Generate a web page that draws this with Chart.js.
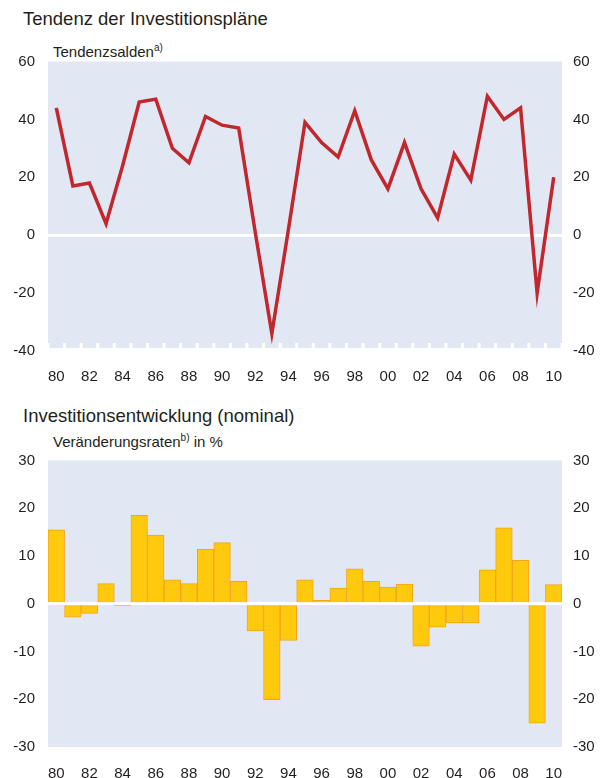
<!DOCTYPE html>
<html lang="de">

<head>
    <meta charset="UTF-8">
    <title>Investitionspläne</title>
    <script src="https://cdn.jsdelivr.net/npm/chart.js"></script>
    <style>
        body { margin: 0; width: 606px; height: 778px; overflow: hidden; background: #fff;
               font-family: "Liberation Sans", Arial, sans-serif; color: #231F20; position: relative; }
        .title { position: absolute; left: 23px; font-size: 18.5px; line-height: 18.5px; white-space: nowrap; }
        .sub { position: absolute; left: 53px; font-size: 15px; line-height: 15px; white-space: nowrap; }
        .sub sup { font-size: 10px; vertical-align: 6px; line-height: 0; }
        canvas { position: absolute; left: 0; }
    </style>
</head>

<body>
    <div class="title" style="top:10px;">Tendenz der Investitionspläne</div>
    <div class="sub" style="top:44px;">Tendenzsalden<sup>a)</sup></div>
    <canvas id="planChart" width="606" height="351" style="top:41px;"></canvas>

    <div class="title" style="top:407px;">Investitionsentwicklung (nominal)</div>
    <div class="sub" style="top:434px;">Veränderungsraten<sup>b)</sup> in %</div>
    <canvas id="rateChart" width="606" height="338" style="top:440px;"></canvas>

    <script>
        // Jahre 1980-2010
        const years = ['80', '81', '82', '83', '84', '85', '86', '87', '88', '89',
            '90', '91', '92', '93', '94', '95', '96', '97', '98', '99',
            '00', '01', '02', '03', '04', '05', '06', '07', '08', '09', '10'];
        // Tendenzsalden der Investitionspläne
        const planSalden = [44, 17, 18, 4, 24, 46, 47, 30, 25, 41,
            38, 37, 1, -34, 2, 39, 32, 27, 43, 26,
            16, 32, 16, 6, 28, 19, 48, 40, 44, -20, 20];
        // Veränderungsraten der Investitionen in %
        const investRaten = [15.5, -2.8, -2.0, 4.2, -0.4, 18.5, 14.4, 5.0, 4.2, 11.4,
            12.8, 4.7, -5.7, -20.1, -7.7, 5.0, 0.7, 3.3, 7.3, 4.7,
            3.5, 4.1, -8.9, -4.9, -4.0, -4.0, 7.1, 15.9, 9.1, -25.0, 4.0];
        const planTicks = { min: -40, max: 60, step: 20 };
        const rateTicks = { min: -30, max: 30, step: 10 };

        const BG = '#E1E8F3';
        const TXT = '#231F20';
        const tickFont = { family: '"Liberation Sans", Arial, sans-serif', size: 15, lineHeight: 1 };

        // Hintergrund der Zeichenfläche (cut = Pixel, die unten frei bleiben)
        function plotBg(cut) {
            return {
                id: 'plotBg',
                beforeDraw(chart) {
                    const a = chart.chartArea, ctx = chart.ctx;
                    ctx.save();
                    ctx.fillStyle = BG;
                    ctx.fillRect(a.left, a.top, a.right - a.left, a.bottom - a.top - cut);
                    ctx.restore();
                }
            };
        }

        // kleine weiße Markierungen an den Jahresgrenzen (nur oben)
        const yearMarks = {
            id: 'yearMarks',
            beforeDatasetsDraw(chart) {
                const x = chart.scales.x, a = chart.chartArea, ctx = chart.ctx;
                const step = x.getPixelForValue(1) - x.getPixelForValue(0);
                ctx.save();
                ctx.fillStyle = '#fff';
                for (let i = 0; i <= years.length; i++) {
                    const px = x.getPixelForValue(0) - step / 2 + i * step;
                    const l = Math.max(a.left, px - 1.5), r = Math.min(a.right, px + 1.5);
                    ctx.fillRect(l, a.bottom - 8, r - l, 5);
                }
                ctx.restore();
            }
        };

        function yAxis(t, pos) {
            return {
                position: pos,
                min: t.min, max: t.max,
                border: { display: false },
                grid: {
                    drawTicks: false,
                    lineWidth: 3,
                    color: c => (c.tick && c.tick.value === 0 && pos === 'left') ? '#fff' : 'rgba(0,0,0,0)'
                },
                ticks: { stepSize: t.step, color: TXT, font: tickFont, padding: pos === 'left' ? 13 : 11 },
                afterFit: s => { s.width = pos === 'left' ? 48 : 44; }
            };
        }

        function xAxis(pad, h) {
            return {
                offset: true,
                border: { display: false },
                grid: { display: false, offset: true },
                ticks: {
                    color: TXT, font: tickFont, padding: pad,
                    autoSkip: false, maxRotation: 0,
                    callback: (v, i) => i % 2 === 0 ? years[i] : ''
                },
                afterFit: s => { s.height = h; }
            };
        }

        new Chart(document.getElementById('planChart'), {
            type: 'line',
            data: {
                labels: years,
                datasets: [{
                    data: planSalden,
                    borderColor: '#C1272D',
                    borderWidth: 3.5,
                    borderJoinStyle: 'miter',
                    pointRadius: 0,
                    tension: 0,
                    yAxisID: 'y'
                }]
            },
            options: {
                responsive: false,
                animation: false,
                layout: { padding: { top: 3.5, bottom: 0, left: 0, right: 0 } },
                plugins: { legend: { display: false }, tooltip: { enabled: false } },
                scales: {
                    x: xAxis(10, 41),
                    y: yAxis(planTicks, 'left'),
                    y2: yAxis(planTicks, 'right')
                }
            },
            plugins: [plotBg(3), yearMarks]
        });

        const rateY = yAxis(rateTicks, 'left');
        rateY.z = 1;
        new Chart(document.getElementById('rateChart'), {
            type: 'bar',
            data: {
                labels: years,
                datasets: [{
                    data: investRaten,
                    backgroundColor: '#FFC90E',
                    borderColor: '#F5A41B',
                    borderWidth: 1,
                    barPercentage: 1,
                    categoryPercentage: 1,
                    yAxisID: 'y'
                }]
            },
            options: {
                responsive: false,
                animation: false,
                layout: { padding: { top: 3.5, bottom: 0, left: 0, right: 0 } },
                plugins: { legend: { display: false }, tooltip: { enabled: false } },
                scales: {
                    x: xAxis(11, 31),
                    y: rateY,
                    y2: yAxis(rateTicks, 'right')
                }
            },
            plugins: [plotBg(0)]
        });
    </script>
</body>

</html>
